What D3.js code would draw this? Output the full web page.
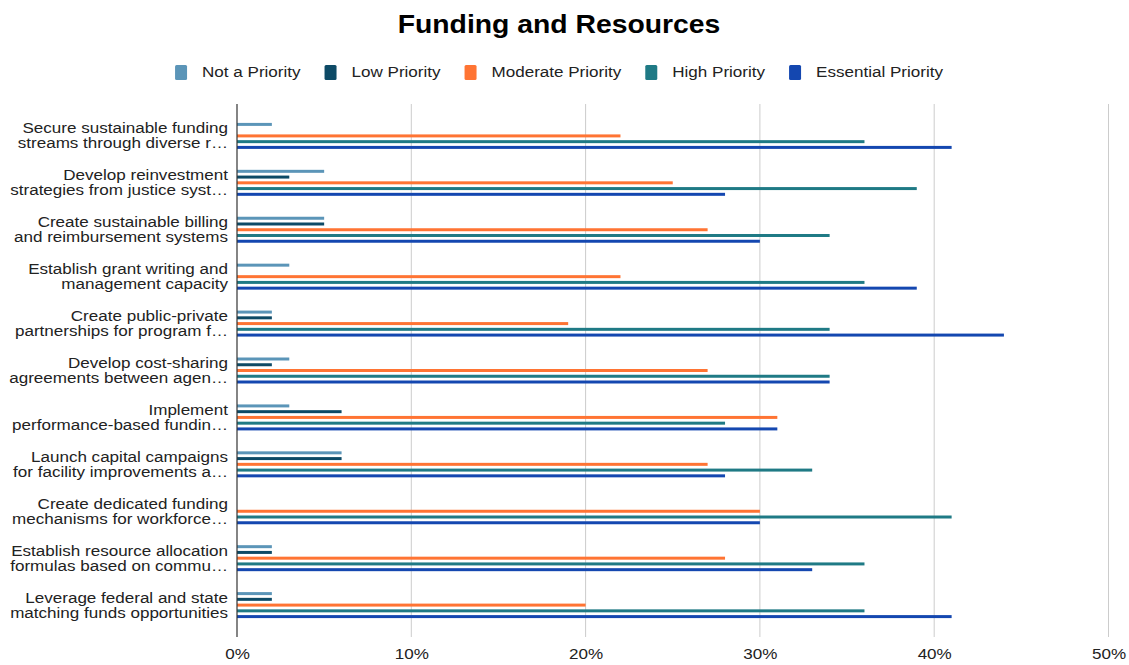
<!DOCTYPE html>
<html>
<head>
<meta charset="utf-8">
<script src="https://cdn.jsdelivr.net/npm/d3@7"></script>
<style>
  html, body { margin: 0; padding: 0; background: #fff; }
  svg { display: block; font-family: "Liberation Sans", Arial, Helvetica, sans-serif; }
</style>
</head>
<body>
<svg id="chart" width="1129" height="665"></svg>
<script>
// Category labels, two lines each (long ones end with an ellipsis)
const categories = [
  ["Secure sustainable funding", "streams through diverse r…"],
  ["Develop reinvestment", "strategies from justice syst…"],
  ["Create sustainable billing", "and reimbursement systems"],
  ["Establish grant writing and", "management capacity"],
  ["Create public-private", "partnerships for program f…"],
  ["Develop cost-sharing", "agreements between agen…"],
  ["Implement", "performance-based fundin…"],
  ["Launch capital campaigns", "for facility improvements a…"],
  ["Create dedicated funding", "mechanisms for workforce…"],
  ["Establish resource allocation", "formulas based on commu…"],
  ["Leverage federal and state", "matching funds opportunities"]
];

const seriesNames = ["Not a Priority", "Low Priority", "Moderate Priority", "High Priority", "Essential Priority"];
const seriesColors = ["#5b95b8", "#0d4a66", "#ff7433", "#1f7a85", "#1447b0"];

// Percent of respondents per category
const notPriority       = [2, 5, 5, 3, 2, 3, 3, 6, 0, 2, 2];
const lowPriority       = [0, 3, 5, 0, 2, 2, 6, 6, 0, 2, 2];
const moderatePriority  = [22, 25, 27, 22, 19, 27, 31, 27, 30, 28, 20];
const highPriority      = [36, 39, 34, 36, 34, 34, 28, 33, 41, 36, 36];
const essentialPriority = [41, 28, 30, 39, 44, 34, 31, 28, 30, 33, 41];

const xTicks = [0, 10, 20, 30, 40, 50];

const seriesValues = [notPriority, lowPriority, moderatePriority, highPriority, essentialPriority];

// Text is drawn slightly wide (horizontal stretch)
const SX = 1.1;
const FONT = 15.5;

const svg = d3.select("#chart");
const plot = { left: 237, right: 1108.5, top: 104, bottom: 637 };

const x = d3.scaleLinear().domain([0, 50]).range([plot.left, plot.right]);
const catIdx = categories.map((d, i) => i);
const y = d3.scaleBand().domain(catIdx).range([plot.top, plot.bottom])
  .paddingInner(0).paddingOuter(0.18);
const half = 14.375;
const ySub = d3.scaleBand().domain(seriesNames)
  .range([y.bandwidth() / 2 - half, y.bandwidth() / 2 + half])
  .paddingInner(0.48).paddingOuter(0.24);

// Title
svg.append("g")
  .attr("transform", `translate(559,33) scale(1.09,1)`)
  .append("text")
  .attr("text-anchor", "middle")
  .attr("font-size", 26).attr("font-weight", "bold")
  .attr("fill", "#000")
  .text("Funding and Resources");

// Legend, centred horizontally
const legend = svg.append("g");
const sw = 12, sh = 15, gapText = 15, gapItem = 24;
let cx = 0;
seriesNames.forEach((name, i) => {
  const g = legend.append("g").attr("transform", `translate(${cx},0)`);
  g.append("rect").attr("x", 0).attr("y", 0.5 - sh / 2).attr("width", sw).attr("height", sh)
    .attr("rx", 1.5).attr("fill", seriesColors[i]);
  const t = g.append("g").attr("transform", `translate(${sw + gapText},0) scale(${SX},1)`)
    .append("text").attr("y", 0).attr("dy", "0.35em")
    .attr("font-size", FONT).attr("fill", "#222").text(name);
  cx += sw + gapText + t.node().getComputedTextLength() * SX + gapItem;
});
const legendW = cx - gapItem;
legend.attr("transform", `translate(${559 - legendW / 2},72)`);

// Vertical gridlines
svg.append("g").selectAll("line")
  .data(xTicks.filter(t => t > 0))
  .join("line")
  .attr("x1", d => x(d)).attr("x2", d => x(d))
  .attr("y1", plot.top).attr("y2", plot.bottom)
  .attr("stroke", "#cccccc").attr("stroke-width", 1);

// Bars
const groups = svg.append("g").selectAll("g")
  .data(catIdx)
  .join("g")
  .attr("transform", i => `translate(0,${y(i)})`);

groups.selectAll("rect")
  .data(i => seriesNames.map((s, k) => ({ s, k, v: seriesValues[k][i] })))
  .join("rect")
  .attr("x", x(0))
  .attr("y", d => ySub(d.s))
  .attr("width", d => x(d.v) - x(0))
  .attr("height", ySub.bandwidth())
  .attr("fill", d => seriesColors[d.k]);

// Category labels
groups.append("g")
  .attr("transform", `translate(228,0) scale(${SX},1)`)
  .append("text")
  .attr("text-anchor", "end")
  .attr("font-size", FONT)
  .attr("fill", "#222")
  .selectAll("tspan")
  .data(i => categories[i])
  .join("tspan")
  .attr("x", 0)
  .attr("y", (d, j) => y.bandwidth() / 2 + (j === 0 ? -2.5 : 12.5))
  .text(d => d);

// Bottom axis labels
const xAxis = d3.axisBottom(x).tickValues(xTicks).tickFormat(d => d + "%").tickSize(0).tickPadding(11);
const ax = svg.append("g").attr("transform", `translate(0,${plot.bottom})`).call(xAxis);
ax.select(".domain").remove();
ax.selectAll("text").attr("font-size", FONT).attr("fill", "#222")
  .attr("font-family", "\"Liberation Sans\", Arial, sans-serif")
  .attr("transform", `scale(${SX},1)`);

// Zero baseline
svg.append("line")
  .attr("x1", x(0)).attr("x2", x(0))
  .attr("y1", plot.top).attr("y2", plot.bottom)
  .attr("stroke", "#333").attr("stroke-width", 1.2);
</script>
</body>
</html>
